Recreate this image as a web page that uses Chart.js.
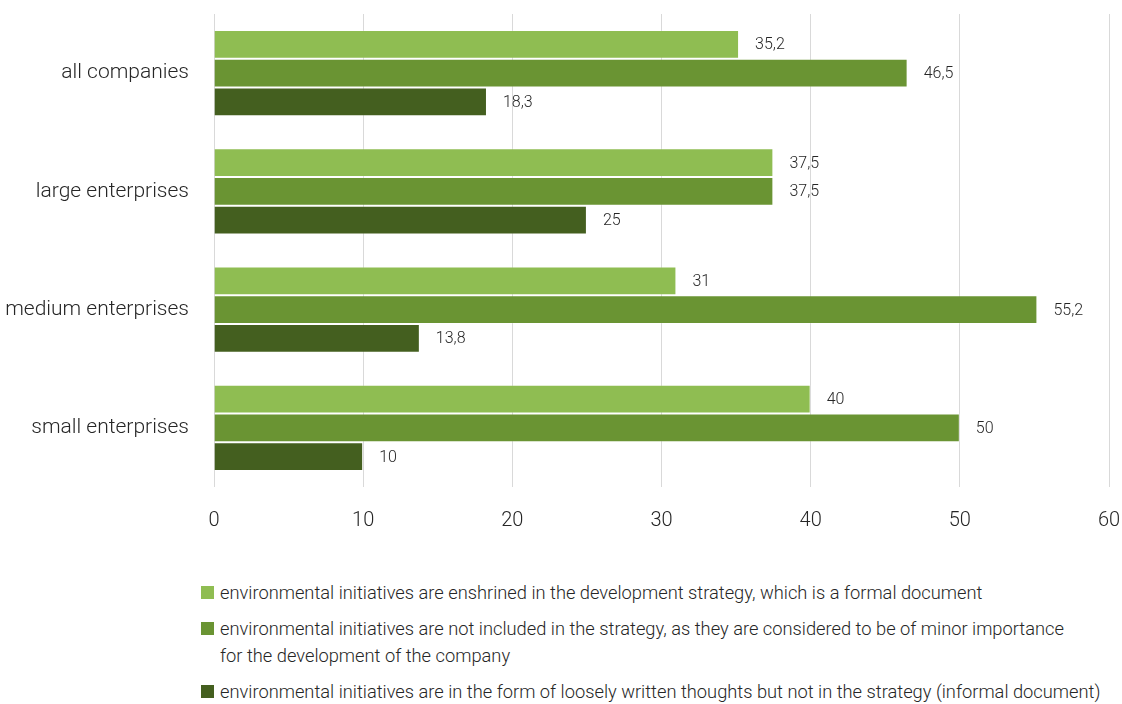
<!DOCTYPE html>
<html>
<head>
<meta charset="utf-8">
<script src="https://cdn.jsdelivr.net/npm/chart.js@4.4.1/dist/chart.umd.min.js"></script>
<style>
  html, body { margin: 0; padding: 0; background: #ffffff; }
  #wrap { position: relative; width: 1122px; height: 704px; font-family: Roboto, "Noto Sans", sans-serif; }
  #chartBox { position: absolute; left: 0; top: 0; width: 1122px; height: 533px; }
  #legend { position: absolute; left: 201px; top: 579px; margin: 0; padding: 0; list-style: none; }
  #legend li { display: flex; align-items: flex-start; margin: 0 0 9px 0; font-size: 18.3px; font-weight: 300;
               line-height: 27px; color: #262626; white-space: pre; }
  #legend .box { flex: none; width: 13px; height: 13px; margin: 7px 6px 0 0; }
</style>
</head>
<body>
<div id="wrap">
  <div id="chartBox"><canvas id="chart"></canvas></div>
  <ul id="legend"></ul>
</div>
<script>
// Company groups shown on the vertical axis
const categories = ['all companies', 'large enterprises', 'medium enterprises', 'small enterprises'];

// Share of companies (%) per answer
const formalStrategy = [35.2, 37.5, 31, 40];
const notIncluded = [46.5, 37.5, 55.2, 50];
const informalNotes = [18.3, 25, 13.8, 10];

const seriesLabels = [
  'environmental initiatives are enshrined in the development strategy, which is a formal document',
  'environmental initiatives are not included in the strategy, as they are considered to be of minor importance\nfor the development of the company',
  'environmental initiatives are in the form of loosely written thoughts but not in the strategy (informal document)'
];

const xTicks = [0, 10, 20, 30, 40, 50, 60];

const colors = ['#8fbd52', '#6a9433', '#445f1f'];

const fmt = v => String(v).replace('.', ',');

// Values printed just past the end of each bar
const valueLabels = {
  id: 'valueLabels',
  afterDatasetsDraw(chart) {
    const ctx = chart.ctx;
    ctx.save();
    ctx.font = '300 16px Roboto';
    ctx.fillStyle = '#262626';
    ctx.textBaseline = 'middle';
    ctx.textAlign = 'left';
    chart.data.datasets.forEach((ds, i) => {
      chart.getDatasetMeta(i).data.forEach((bar, j) => {
        ctx.fillText(fmt(ds.data[j]), bar.x + 16, bar.y + 1);
      });
    });
    ctx.restore();
  }
};

const chart = new Chart(document.getElementById('chart'), {
  type: 'bar',
  data: {
    labels: categories,
    datasets: [formalStrategy, notIncluded, informalNotes].map((d, i) => ({
      label: seriesLabels[i],
      data: d,
      backgroundColor: colors[i],
      borderColor: 'rgba(255,255,255,0.2)',
      borderWidth: 1,
      categoryPercentage: 0.73,
      barPercentage: 1
    }))
  },
  options: {
    indexAxis: 'y',
    responsive: true,
    maintainAspectRatio: false,
    animation: false,
    layout: { padding: { top: 14, right: 13, left: 0, bottom: 0 } },
    plugins: {
      legend: { display: false },
      tooltip: { enabled: false }
    },
    scales: {
      x: {
        min: 0,
        max: 60,
        afterBuildTicks: s => { s.ticks = xTicks.map(v => ({ value: v })); },
        grid: { color: '#d9d9d9', lineWidth: 1, drawTicks: true, tickLength: 22, tickColor: 'rgba(0,0,0,0)' },
        border: { display: false },
        ticks: {
          padding: 0,
          color: '#262626',
          font: { family: 'Roboto', size: 20, weight: '300' }
        }
      },
      y: {
        afterFit: s => { s.width = 214; },
        grid: { display: false, drawTicks: true, tickLength: 25, tickColor: 'rgba(0,0,0,0)' },
        border: { display: false },
        ticks: {
          padding: 0,
          color: '#262626',
          font: { family: 'Roboto', size: 21, weight: '300' }
        }
      }
    }
  },
  plugins: [valueLabels]
});

// Legend list built from the chart's own datasets
const legendEl = document.getElementById('legend');
chart.data.datasets.forEach(ds => {
  const li = document.createElement('li');
  const box = document.createElement('span');
  box.className = 'box';
  box.style.background = ds.backgroundColor;
  const txt = document.createElement('span');
  txt.textContent = ds.label;
  li.appendChild(box);
  li.appendChild(txt);
  legendEl.appendChild(li);
});
</script>
</body>
</html>
